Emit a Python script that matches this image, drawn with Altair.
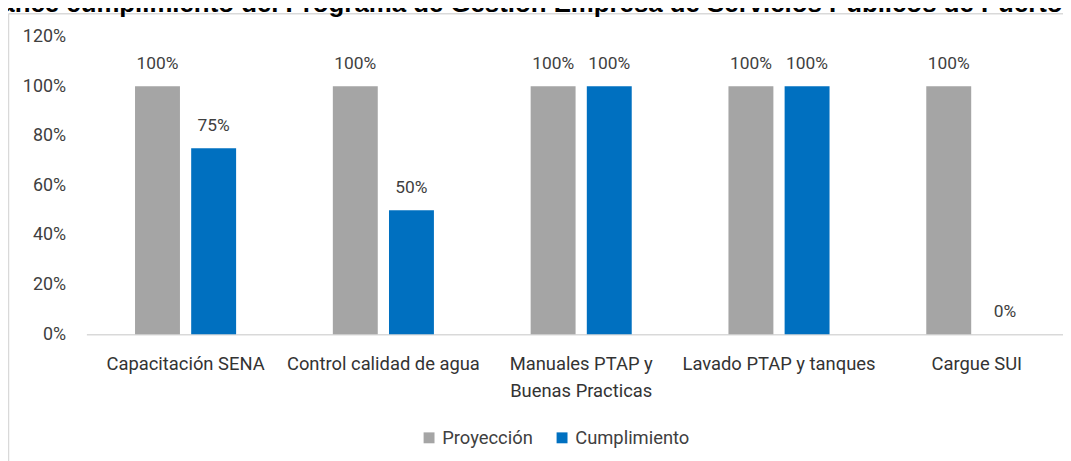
import altair as alt
import pandas as pd

categories = [
    "Capacitación SENA",
    "Control calidad de agua",
    "Manuales PTAP y Buenas Practicas",
    "Lavado PTAP y tanques",
    "Cargue SUI",
]
series = ["Proyección", "Cumplimiento"]
proyeccion = [1.00, 1.00, 1.00, 1.00, 1.00]
cumplimiento = [0.75, 0.50, 1.00, 1.00, 0.00]
colors = ["#A5A5A5", "#0070C0"]
y_ticks = [0.0, 0.2, 0.4, 0.6, 0.8, 1.0, 1.2]
title_text = "Avance cumplimiento del Programa de Gestión Empresa de Servicios Públicos de Puerto Gaitán"

rows = []
for i, c in enumerate(categories):
    rows.append({"cat": c, "serie": series[0], "valor": proyeccion[i]})
    rows.append({"cat": c, "serie": series[1], "valor": cumplimiento[i]})
df = pd.DataFrame(rows)

W, H = 984, 300
FONT = "Roboto"

label_expr = (
    "datum.label == 'Manuales PTAP y Buenas Practicas' ? "
    "['Manuales PTAP y', 'Buenas Practicas'] : datum.label"
)

base = alt.Chart(df).encode(
    x=alt.X(
        "cat:N",
        sort=categories,
        scale=alt.Scale(paddingInner=0.489, paddingOuter=0.213, align=0.577, round=False),
        axis=alt.Axis(
            title=None,
            labelAngle=0,
            labelFont=FONT,
            labelFontSize=18.5,
            labelColor="#333333",
            labelPadding=21,
            labelLimit=400,
            labelExpr=label_expr,
            labelLineHeight=27,
            ticks=False,
            domainColor="#D9D9D9",
            domainWidth=1.5,
        ),
    ),
    xOffset=alt.XOffset(
        "serie:N", sort=series, scale=alt.Scale(paddingInner=0.2, paddingOuter=0)
    ),
    y=alt.Y(
        "valor:Q",
        scale=alt.Scale(domain=[0, 1.2], nice=False),
        axis=alt.Axis(
            title=None,
            format=".0%",
            values=y_ticks,
            grid=False,
            domain=False,
            ticks=False,
            labelPadding=21,
            labelFont=FONT,
            labelFontSize=18,
            labelColor="#404040",
        ),
    ),
)

bars = base.mark_bar().encode(
    color=alt.Color(
        "serie:N",
        sort=series,
        scale=alt.Scale(domain=series, range=colors),
        legend=alt.Legend(
            title=None,
            orient="none",
            legendX=336,
            legendY=395,
            direction="horizontal",
            symbolType="square",
            symbolSize=121,
            symbolStrokeWidth=0,
            labelFont=FONT,
            labelFontSize=18.5,
            labelColor="#404040",
            labelOffset=4,
            columnPadding=20,
        ),
    )
)

labels = base.mark_text(
    baseline="alphabetic", dy=-17, font=FONT, fontSize=17.5, color="#404040"
).encode(text=alt.Text("valor:Q", format=".0%"))

one = pd.DataFrame({"t": [title_text]})

title = alt.Chart(one).mark_text(
    align="left",
    baseline="alphabetic",
    font="Liberation Sans",
    fontWeight="bold",
    fontSize=26,
    color="#000000",
).encode(x=alt.value(-119), y=alt.value(-25), text="t:N")

frame_top = alt.Chart(one).mark_rule(color="#D9D9D9", strokeWidth=1.5).encode(
    x=alt.value(-78.5), x2=alt.value(W + 50), y=alt.value(-23)
)
frame_left = alt.Chart(one).mark_rule(color="#D9D9D9", strokeWidth=1.5).encode(
    x=alt.value(-78.5), y=alt.value(-23), y2=alt.value(H + 200)
)

chart = (
    alt.layer(frame_top, frame_left, bars, labels, title)
    .properties(
        width=W,
        height=H,
        autosize=alt.AutoSizeParams(type="none"),
        padding={"left": 79, "top": 27, "right": 0, "bottom": 126},
    )
    .configure_view(stroke=None)
)

chart.save("out.html", embed_options={"renderer": "svg", "actions": False})
